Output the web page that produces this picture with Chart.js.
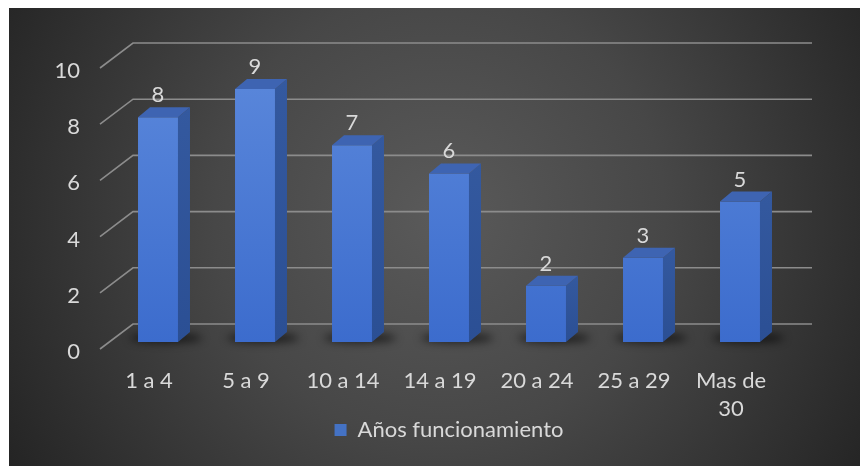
<!DOCTYPE html>
<html>
<head>
<meta charset="utf-8">
<script src="https://cdn.jsdelivr.net/npm/chart.js@4.4.1/dist/chart.umd.min.js"></script>
<style>
  html, body { margin: 0; padding: 0; background: #ffffff; }
  canvas { display: block; }
</style>
</head>
<body>
<canvas id="chart" width="860" height="466"></canvas>
<script>
// Years of operation, grouped in ranges
const categories = ['1 a 4', '5 a 9', '10 a 14', '14 a 19', '20 a 24', '25 a 29', ['Mas de', '30']];
const values = [8, 9, 7, 6, 2, 3, 5];
const seriesName = 'Años funcionamiento';
const yTickStep = 2;
const yMax = 10;

const FONT = 'Lato, "Open Sans", sans-serif';
const FONT_SIZE = 22;
const TEXT = '#d9d9d9';

// depth of the back wall relative to the bars' plane
const WALL_DX = 33, WALL_FRONT = 7, WALL_BACK = 18;
// depth of each bar
const BAR_DX = 12, BAR_DY = 10;

const backgroundPlugin = {
  id: 'panel',
  beforeDraw(chart) {
    const ctx = chart.ctx;
    ctx.save();
    ctx.fillStyle = '#ffffff';
    ctx.fillRect(0, 0, chart.width, chart.height);
    const g = ctx.createRadialGradient(440, 215, 0, 440, 215, 500);
    g.addColorStop(0, '#5a5a5a');
    g.addColorStop(0.45, '#474747');
    g.addColorStop(1, '#242424');
    ctx.fillStyle = g;
    ctx.fillRect(9, 8, chart.width - 9, chart.height - 8);
    ctx.restore();
  }
};

const wallPlugin = {
  id: 'wall',
  beforeDatasetsDraw(chart) {
    const ctx = chart.ctx;
    const ys = chart.scales.y;
    const area = chart.chartArea;
    ctx.save();
    ctx.strokeStyle = '#8c8c8c';
    ctx.lineWidth = 1.6;
    for (let v = 0; v <= yMax; v += yTickStep) {
      const py = ys.getPixelForValue(v);
      ctx.beginPath();
      ctx.moveTo(area.left - 9.5, py + WALL_FRONT);
      ctx.lineTo(area.left - 9.5 + WALL_DX, py - WALL_BACK);
      ctx.lineTo(area.right + 23.5, py - WALL_BACK);
      ctx.stroke();
    }
    // soft floor shadows at the base of each bar
    const meta = chart.getDatasetMeta(0);
    ctx.filter = 'blur(4px)';
    ctx.fillStyle = 'rgba(0,0,0,0.6)';
    meta.data.forEach(bar => {
      ctx.beginPath();
      ctx.ellipse(bar.x + 8, bar.base - 4, bar.width / 2 + 16, 5, 0, 0, Math.PI * 2);
      ctx.fill();
    });
    ctx.filter = 'none';
    ctx.restore();
  }
};

const prismPlugin = {
  id: 'prism',
  afterDatasetsDraw(chart) {
    const ctx = chart.ctx;
    const meta = chart.getDatasetMeta(0);
    ctx.save();
    meta.data.forEach((bar, i) => {
      const l = bar.x - bar.width / 2;
      const r = bar.x + bar.width / 2;
      const t = bar.y;
      const b = bar.base;
      // side face
      const sg = ctx.createLinearGradient(0, t - BAR_DY, 0, b);
      sg.addColorStop(0, '#34599f');
      sg.addColorStop(1, '#2b4f94');
      ctx.fillStyle = sg;
      ctx.beginPath();
      ctx.moveTo(r, t);
      ctx.lineTo(r + BAR_DX, t - BAR_DY);
      ctx.lineTo(r + BAR_DX, b - BAR_DY);
      ctx.lineTo(r, b);
      ctx.closePath();
      ctx.fill();
      // top face
      ctx.fillStyle = '#3e64b2';
      ctx.beginPath();
      ctx.moveTo(l, t);
      ctx.lineTo(l + BAR_DX, t - BAR_DY);
      ctx.lineTo(r + BAR_DX, t - BAR_DY);
      ctx.lineTo(r, t);
      ctx.closePath();
      ctx.fill();
      // value label
      ctx.fillStyle = TEXT;
      ctx.font = FONT_SIZE + 'px ' + FONT;
      ctx.textAlign = 'center';
      ctx.textBaseline = 'middle';
      ctx.fillText(String(values[i]), bar.x, t - 22);
    });
    ctx.restore();
  }
};

const ctx = document.getElementById('chart').getContext('2d');
new Chart(ctx, {
  type: 'bar',
  data: {
    labels: categories,
    datasets: [{
      label: seriesName,
      data: values,
      backgroundColor(c) {
        const area = c.chart.chartArea;
        if (!area) return '#4472c4';
        const g = c.chart.ctx.createLinearGradient(0, area.top, 0, area.bottom);
        g.addColorStop(0, '#5b88db');
        g.addColorStop(1, '#3c6ccd');
        return g;
      },
      borderWidth: 0,
      categoryPercentage: 1,
      barPercentage: 0.412
    }]
  },
  options: {
    responsive: false,
    animation: false,
    devicePixelRatio: 1,
    layout: { padding: { left: 9, right: 71.5, top: 61, bottom: 15 } },
    scales: {
      x: {
        grid: { display: false, drawTicks: false },
        border: { display: false },
        ticks: {
          color: TEXT,
          font: { family: FONT, size: FONT_SIZE, lineHeight: 1.27 },
          padding: 25,
          labelOffset: -9,
          maxRotation: 0,
          autoSkip: false
        },
        afterFit(scale) { scale.height = 77; }
      },
      y: {
        min: 0,
        max: yMax,
        grid: { display: false, drawTicks: false },
        border: { display: false },
        ticks: {
          stepSize: yTickStep,
          color: TEXT,
          font: { family: FONT, size: FONT_SIZE },
          padding: 29.5,
          labelOffset: 10
        },
        afterFit(scale) { scale.width = 100.5; }
      }
    },
    plugins: {
      legend: {
        position: 'bottom',
        fullSize: false,
        labels: {
          color: TEXT,
          font: { family: FONT, size: FONT_SIZE },
          boxWidth: 12,
          boxHeight: 12,
          padding: 0,
          generateLabels(chart) {
            return [{
              text: seriesName,
              fillStyle: '#4472c4',
              strokeStyle: '#4472c4',
              lineWidth: 0,
              fontColor: TEXT,
              datasetIndex: 0
            }];
          }
        }
      },
      tooltip: { enabled: false }
    }
  },
  plugins: [backgroundPlugin, wallPlugin, prismPlugin]
});
</script>
</body>
</html>
